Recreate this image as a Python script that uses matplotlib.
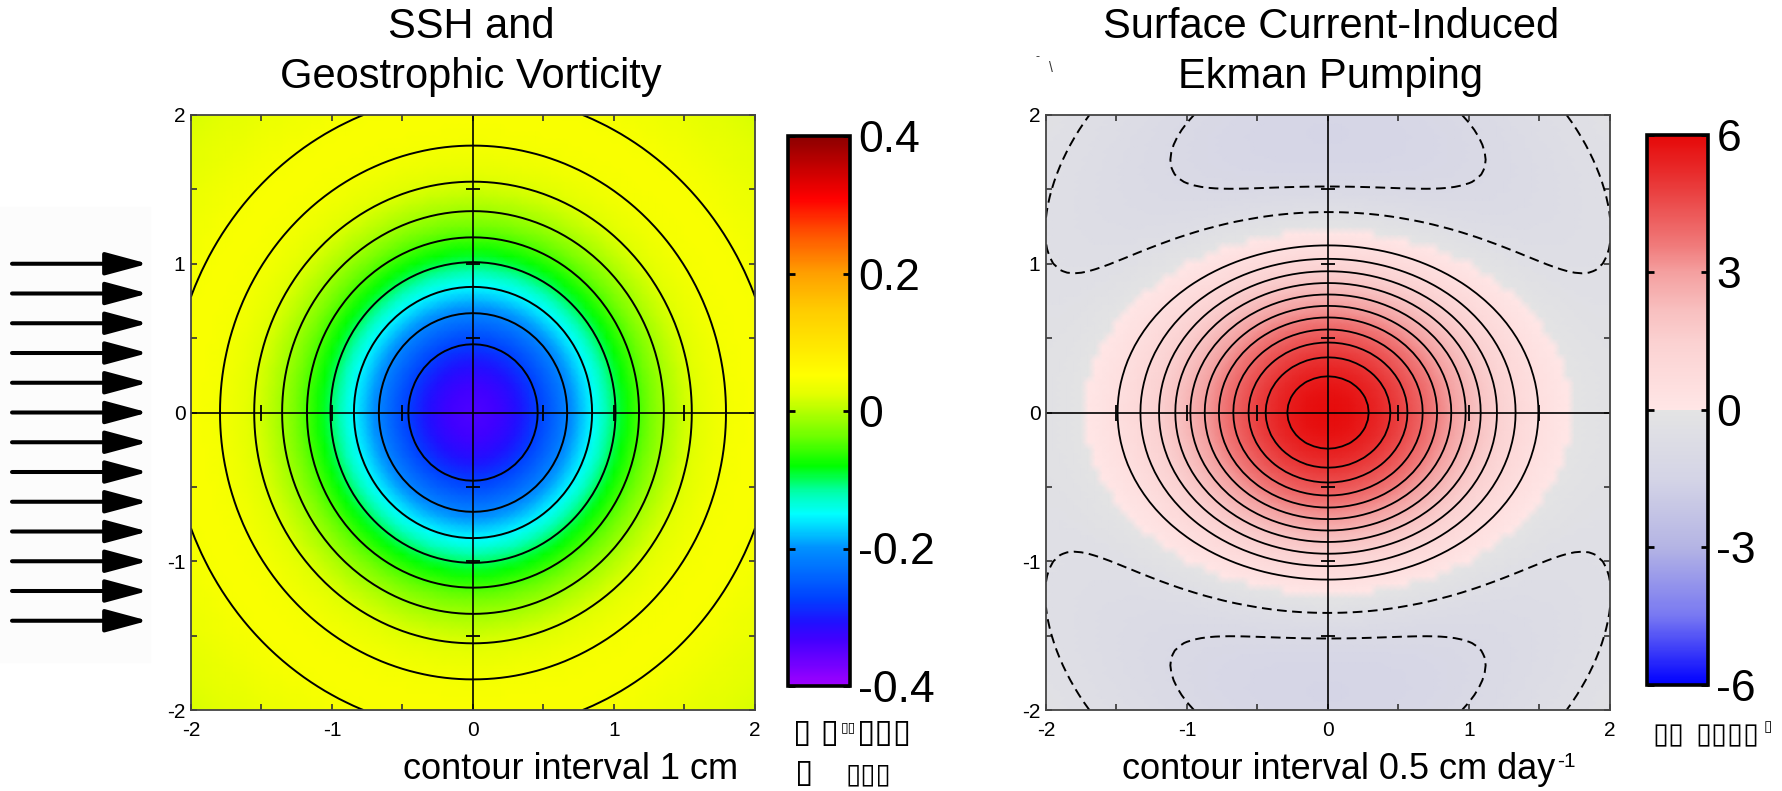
import numpy as np
import matplotlib
matplotlib.use("Agg")
import matplotlib.pyplot as plt
import matplotlib.transforms as mtransforms
from matplotlib.colors import LinearSegmentedColormap, Normalize
from matplotlib.cm import ScalarMappable
from matplotlib.patches import FancyArrowPatch, Rectangle

plt.rcParams['font.family'] = ['Liberation Sans', 'DejaVu Sans']
plt.rcParams['axes.unicode_minus'] = False

# eddy parameters
ssh_amp = -10.0          # cm, eddy centre
eddy_l2 = 2.0            # e-folding scale squared
vort_amp = -0.34         # centre vorticity (colour scale units)
pump_amp = 5.9           # cm/day, centre Ekman pumping

ssh_levels = [-9, -8, -7, -6, -5, -4, -3, -2, -1]
pump_pos_levels = [0.5, 1.0, 1.5, 2.0, 2.5, 3.0, 3.5, 4.0, 4.5, 5.0, 5.5]
pump_neg_levels = [-1.0, -0.5]

axis_ticks = [-2, -1, 0, 1, 2]
axis_minor = [-1.5, -0.5, 0.5, 1.5]
cross_marks = [-1.5, -1, -0.5, 0.5, 1, 1.5]

vort_ticks = [-0.4, -0.2, 0, 0.2, 0.4]
vort_labels = ['-0.4', '-0.2', '0', '0.2', '0.4']
pump_ticks = [-6, -3, 0, 3, 6]
pump_labels = ['-6', '-3', '0', '3', '6']

wind_rows = [1.0, 0.8, 0.6, 0.4, 0.2, 0, -0.2, -0.4, -0.6, -0.8, -1.0, -1.2, -1.4]

grid = np.linspace(-2, 2, 81)
X, Y = np.meshgrid(grid, grid)
R2 = (X**2 + Y**2) / eddy_l2
ssh = ssh_amp * np.exp(-R2)
vort = vort_amp * (1 - R2) * np.exp(-R2)
pump = pump_amp * (1 - (X**2 + 2 * Y**2) / 3.0) * np.exp(-R2)

# colormaps
cm_vort = LinearSegmentedColormap.from_list('vort', [
    (0.0, '#a000ff'), (0.041, '#7000ff'), (0.085, '#4000ff'), (0.115, '#2010ff'),
    (0.158, '#0040ff'), (0.194, '#0060ff'), (0.25, '#0090ff'), (0.28, '#00c8ff'),
    (0.3125, '#00ffff'), (0.351, '#00ffb0'), (0.4, '#00ff00'), (0.455, '#70ff00'),
    (0.5, '#b4ff00'), (0.53, '#e2ff00'), (0.565, '#ffff00'), (0.684, '#ffcc00'),
    (0.75, '#ffa000'), (0.825, '#ff5000'), (0.886, '#ff0000'), (1.0, '#8b0000')], N=512)
cm_pump = LinearSegmentedColormap.from_list('pump', [
    (0.0, '#0000ff'), (0.125, '#7878f2'), (0.25, '#b4b4e4'), (0.375, '#d4d4e6'),
    (0.499, '#e4e4e4'), (0.501, '#ffe6e6'), (0.62, '#fbd2d2'), (0.68, '#f8c0c0'),
    (0.75, '#f4a0a0'), (0.8, '#f07a7a'), (0.925, '#e83030'), (1.0, '#e60808')], N=512)
norm_vort = Normalize(-0.4, 0.4)
norm_pump = Normalize(-6, 6)

W, H = 1783, 791
fig = plt.figure(figsize=(W / 100, H / 100), dpi=100)

def box(x0, y0, x1, y1):
    return [x0 / W, 1 - y1 / H, (x1 - x0) / W, (y1 - y0) / H]

def ftext(x, y, s, **kw):
    # x, y in pixels from the top-left corner
    return fig.text(x / W, 1 - y / H, s, **kw)

axL = fig.add_axes(box(191, 115, 755, 710))
axR = fig.add_axes(box(1046, 115, 1610, 710))
caxL = fig.add_axes(box(788, 136, 850, 686))
caxR = fig.add_axes(box(1647, 135, 1708, 685))

axL.pcolormesh(X, Y, vort, cmap=cm_vort, norm=norm_vort, shading='gouraud')
axL.contour(X, Y, ssh, levels=ssh_levels, colors='k', linewidths=1.4, linestyles='solid')

axR.pcolormesh(X, Y, pump, cmap=cm_pump, norm=norm_pump, shading='gouraud')
axR.contour(X, Y, pump, levels=pump_pos_levels, colors='k', linewidths=1.3, linestyles='solid')
axR.contour(X, Y, pump, levels=pump_neg_levels, colors='k', linewidths=1.4,
            linestyles=[(0, (5, 2.8))])

for ax in (axL, axR):
    ax.set_xlim(-2, 2)
    ax.set_ylim(-2, 2)
    ax.axhline(0, color='k', lw=1.2)
    ax.axvline(0, color='k', lw=1.2)
    ax.plot(cross_marks, np.zeros(len(cross_marks)), '|', color='k', ms=11, mew=1.3)
    ax.plot(np.zeros(len(cross_marks)), cross_marks, '_', color='k', ms=10, mew=1.3)
    ax.set_xticks(axis_ticks)
    ax.set_yticks(axis_ticks)
    ax.set_xticks(axis_minor, minor=True)
    ax.set_yticks(axis_minor, minor=True)
    ax.set_xticklabels([str(t) for t in axis_ticks])
    ax.set_yticklabels([str(t) for t in axis_ticks])
    ax.tick_params(which='both', direction='in', top=True, right=True,
                   length=4.5, width=1.2, color='#333333')
    ax.tick_params(axis='x', labelsize=15, pad=8)
    ax.tick_params(axis='y', labelsize=15, pad=4)
    for s in ax.spines.values():
        s.set_linewidth(1.3)
        s.set_color('#444444')

for cax, cmap, norm, ticks, labels in [(caxL, cm_vort, norm_vort, vort_ticks, vort_labels),
                                        (caxR, cm_pump, norm_pump, pump_ticks, pump_labels)]:
    cb = fig.colorbar(ScalarMappable(norm=norm, cmap=cmap), cax=cax)
    cb.set_ticks(ticks)
    cb.set_ticklabels(labels)
    cb.minorticks_off()
    cb.outline.set_linewidth(2.6)
    cax.tick_params(direction='in', left=True, right=True, length=5, width=2,
                    labelsize=32, pad=6)

# titles
fs_title = 30
ftext(471, 38, 'SSH and', ha='center', va='baseline', fontsize=fs_title)
ftext(471, 88, 'Geostrophic Vorticity', ha='center', va='baseline', fontsize=fs_title)
ftext(1331, 38, 'Surface Current-Induced', ha='center', va='baseline', fontsize=fs_title)
ftext(1331, 88, 'Ekman Pumping', ha='center', va='baseline', fontsize=fs_title)
ftext(1036, 60, '-', ha='left', va='baseline', fontsize=9, color='#333333')
ftext(1049, 72, '\\', ha='left', va='baseline', fontsize=10, color='#333333')

# x labels
ftext(571, 779, 'contour interval 1 cm', ha='center', va='baseline', fontsize=26)
xlab_r = ftext(1122, 779, 'contour interval 0.5 cm day', ha='left', va='baseline', fontsize=26)
fig.canvas.draw()
x_end = xlab_r.get_window_extent().x1
ftext(x_end + 2, 767, '-1', ha='left', va='baseline', fontsize=15)

# missing-glyph boxes under the colour bars
tofu = '\u25af'
ftext(793, 742, tofu + ' ' + tofu, ha='left', va='baseline', fontsize=24)
ftext(841, 731, tofu + tofu, ha='left', va='baseline', fontsize=10)
ftext(857, 742, tofu * 3, ha='left', va='baseline', fontsize=24)
ftext(795, 782, tofu, ha='left', va='baseline', fontsize=24)
ftext(846, 782, tofu * 3, ha='left', va='baseline', fontsize=20)
ftext(1652, 743, tofu * 2, ha='left', va='baseline', fontsize=21)
ftext(1695, 743, tofu * 4, ha='left', va='baseline', fontsize=21)
ftext(1764, 731, tofu, ha='left', va='baseline', fontsize=11)

# uniform wind arrows on the left
fig.add_artist(Rectangle((0, 1 - 662 / H), 150 / W, (662 - 207) / H,
                         transform=fig.transFigure, color='#fcfcfc', zorder=0))
blend = mtransforms.blended_transform_factory(fig.transFigure, axL.transData)
for yw in wind_rows:
    arr = FancyArrowPatch((12 / W, yw), (148 / W, yw), transform=blend,
                          arrowstyle='-|>,head_length=26,head_width=7',
                          mutation_scale=1, lw=2.9, color='k',
                          shrinkA=0, shrinkB=0)
    fig.add_artist(arr)

fig.savefig('out.png', dpi=100)
